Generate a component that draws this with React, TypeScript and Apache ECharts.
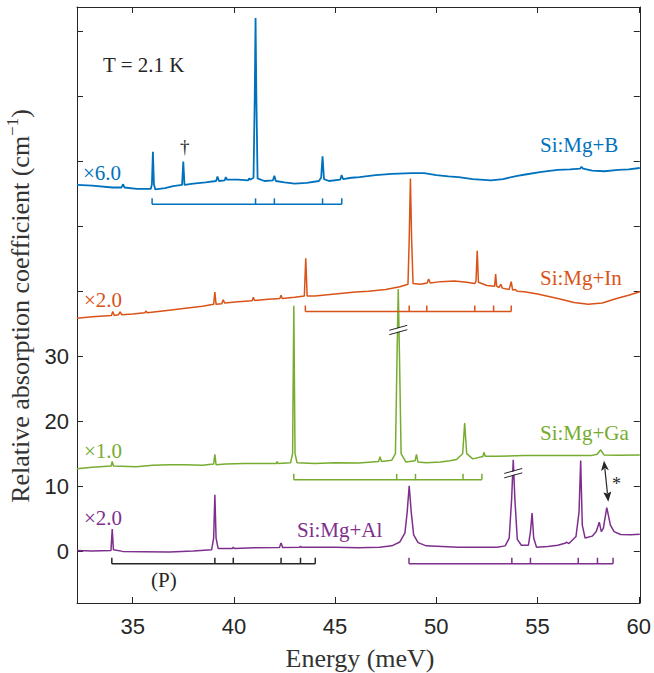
import React, { useEffect, useRef } from "react";
import * as echarts from "echarts";

// ---------- data (energy meV, displayed relative absorption) ----------
const xTicks = [35, 40, 45, 50, 55, 60];
const yTicks = [0, 10, 20, 30, 40, 50, 60, 70, 80];
const yLabels = [0, 10, 20, 30];

const spectrumB: number[][] = [
  [32.25, 56.4], [33.0, 56.3], [34.0, 56.0], [34.45, 56.0], [34.52, 56.5], [34.6, 56.0], [35.2, 55.8],
  [35.9, 55.8], [35.95, 56.5], [36.0, 61.5], [36.05, 56.5], [36.12, 55.7], [36.6, 55.9], [37.0, 56.2],
  [37.44, 56.4], [37.5, 60.0], [37.56, 56.4], [38.0, 56.6], [38.6, 56.8], [39.12, 57.0], [39.19, 57.7],
  [39.26, 57.0], [39.55, 57.1], [39.6, 57.6], [39.66, 57.2], [40.2, 57.2], [40.7, 57.1], [40.75, 57.4],
  [40.8, 57.2], [40.97, 57.5], [41.03, 70.0], [41.07, 82.1], [41.11, 70.0], [41.17, 57.4], [41.5, 57.0],
  [41.93, 57.1], [42.0, 57.8], [42.07, 57.0], [42.5, 56.8], [43.0, 56.6], [43.6, 56.7], [44.2, 57.0],
  [44.31, 57.5], [44.38, 60.8], [44.45, 57.3], [44.7, 57.0], [45.25, 57.2], [45.32, 57.9], [45.39, 57.3],
  [45.8, 57.5], [46.2, 57.6], [47.0, 57.9], [47.8, 58.1], [48.8, 58.2], [49.4, 58.2], [50.0, 57.9],
  [50.6, 57.7], [51.1, 57.6], [51.8, 57.3], [52.7, 57.1], [53.3, 57.3], [54.0, 57.8], [54.4, 58.0],
  [55.2, 58.4], [56.0, 58.7], [56.6, 58.8], [57.1, 58.9], [57.17, 59.2], [57.25, 58.9], [57.7, 58.6],
  [58.3, 58.5], [59.0, 58.7], [59.5, 58.8], [60.05, 59.0],
];

const spectrumIn: number[][] = [
  [32.25, 35.85], [33.0, 36.1], [33.95, 36.3], [34.02, 36.9], [34.09, 36.3], [34.3, 36.4], [34.38, 36.85],
  [34.46, 36.4], [35.0, 36.5], [35.6, 36.7], [35.66, 37.0], [35.72, 36.7], [36.8, 37.1], [37.6, 37.4],
  [38.45, 37.7], [39.0, 38.0], [39.06, 39.9], [39.12, 38.0], [39.4, 38.1], [39.47, 38.7], [39.55, 38.2],
  [40.2, 38.4], [40.9, 38.55], [40.96, 39.1], [41.02, 38.6], [41.7, 38.8], [42.27, 38.9], [42.33, 39.4],
  [42.39, 38.9], [43.0, 39.1], [43.48, 39.3], [43.55, 45.1], [43.62, 39.3], [44.0, 39.3], [45.0, 39.6],
  [46.0, 39.9], [46.65, 40.0], [47.5, 40.3], [48.2, 40.7], [48.6, 41.1], [48.66, 48.0], [48.72, 57.4],
  [48.78, 48.0], [48.85, 41.2], [49.2, 41.1], [49.55, 41.3], [49.62, 41.9], [49.7, 41.3], [50.2, 41.5],
  [50.9, 41.6], [51.5, 41.4], [51.9, 41.2], [51.96, 41.6], [52.02, 46.25], [52.08, 41.4], [52.5, 40.9],
  [52.88, 40.8], [52.93, 42.66], [52.98, 40.8], [53.1, 40.6], [53.19, 41.1], [53.26, 40.5], [53.6, 40.3],
  [53.7, 41.5], [53.77, 40.2], [53.9, 40.3], [54.0, 40.0], [54.35, 39.95], [55.0, 39.6], [56.0, 38.9],
  [56.8, 38.3], [57.5, 38.0], [58.2, 38.2], [58.9, 38.9], [59.5, 39.4], [60.05, 39.95],
];

const spectrumGa: number[][] = [
  [32.25, 12.66], [33.0, 12.9], [33.94, 13.1], [33.99, 13.8], [34.05, 13.1], [35.17, 13.0], [36.0, 13.2],
  [36.81, 13.3], [37.6, 13.3], [38.45, 13.2], [39.0, 13.4], [39.06, 14.9], [39.12, 13.3], [39.6, 13.4],
  [40.5, 13.5], [41.73, 13.5], [42.1, 13.5], [42.14, 13.8], [42.18, 13.5], [42.8, 13.6], [42.9, 15.0],
  [42.96, 37.8], [43.02, 15.0], [43.12, 13.6], [44.0, 13.5], [45.0, 13.6], [46.16, 13.55], [47.15, 13.8],
  [47.22, 14.55], [47.29, 13.8], [47.8, 14.0], [47.98, 15.0], [48.06, 30.0], [48.12, 40.35], [48.18, 30.0],
  [48.26, 15.0], [48.5, 13.7], [48.95, 13.9], [49.02, 14.9], [49.09, 13.7], [49.5, 13.6], [50.2, 13.7],
  [50.67, 13.9], [51.0, 14.1], [51.3, 15.0], [51.4, 19.7], [51.5, 15.0], [51.8, 14.2], [52.3, 14.55],
  [52.35, 15.2], [52.42, 14.6], [53.0, 14.6], [54.35, 14.7], [55.5, 14.7], [56.5, 14.7], [57.63, 14.7],
  [57.95, 14.9], [58.12, 15.6], [58.28, 14.8], [59.0, 14.75], [60.05, 14.8],
];

const spectrumAl: number[][] = [
  [32.25, 0.1], [33.0, 0.0], [33.93, 0.1], [33.99, 3.4], [34.05, 0.2], [34.5, -0.05], [35.5, -0.1],
  [36.81, -0.15], [38.0, 0.0], [38.9, 0.2], [39.0, 2.0], [39.06, 8.66], [39.12, 2.0], [39.22, 0.4],
  [39.92, 0.4], [39.97, 0.6], [40.02, 0.4], [41.0, 0.5], [42.25, 0.55], [42.33, 1.23], [42.41, 0.55],
  [43.25, 0.6], [43.29, 0.75], [43.33, 0.6], [45.0, 0.6], [46.16, 0.5], [47.2, 0.6], [47.8, 0.8],
  [48.2, 1.4], [48.45, 2.8], [48.56, 6.0], [48.66, 10.05], [48.76, 6.0], [48.88, 2.5], [49.1, 1.3],
  [49.5, 0.8], [51.07, 0.6], [53.0, 0.6], [53.4, 0.8], [53.6, 2.0], [53.72, 8.0], [53.8, 14.05],
  [53.88, 8.0], [54.0, 1.8], [54.2, 0.9], [54.55, 0.9], [54.65, 3.0], [54.73, 5.85], [54.81, 2.0],
  [54.95, 0.6], [55.5, 0.7], [56.0, 0.9], [56.35, 1.2], [56.45, 1.35], [56.55, 1.15], [56.9, 2.25],
  [57.05, 6.0], [57.13, 13.95], [57.21, 4.0], [57.35, 2.0], [57.7, 2.3], [57.9, 3.0], [58.05, 4.45],
  [58.15, 3.0], [58.25, 3.5], [58.42, 6.7], [58.6, 4.0], [58.78, 3.0], [59.1, 2.55], [59.6, 2.5],
  [60.05, 2.6],
];

// line assignment brackets (first/last = ends)
const bracketB = [35.96, 41.07, 42.0, 44.38, 45.33];
const bracketIn = [43.53, 48.66, 49.53, 51.9, 52.83, 53.7];
const bracketGa = [42.96, 48.04, 48.97, 51.32, 52.25];
const bracketP = [33.97, 39.06, 39.97, 42.33, 43.29, 44.02];
const bracketAl = [48.65, 53.73, 54.65, 57.01, 57.96, 58.73];
const bracketLevels = [53.4, 36.9, 10.97, -1.95, -1.95];

// axis-break marks on clipped peaks
const breakMarks: number[][] = [
  [48.12, 34.05],
  [53.8, 12.0],
];

const C_B = "#0072BD";
const C_IN = "#D95319";
const C_GA = "#77AC30";
const C_AL = "#7E2F8E";
const C_K = "#262626";

const SERIF = '"Liberation Serif", "Times New Roman", serif';
const SANS = '"Liberation Sans", Arial, sans-serif';

function bracketSeries(ticks: number[], level: number, color: string) {
  return {
    type: "custom",
    silent: true,
    clip: false,
    z: 3,
    data: [[ticks[0], level]],
    renderItem: (_p: any, api: any) => {
      const pts = ticks.map((t) => api.coord([t, level]));
      const h = 6;
      const children: any[] = [
        {
          type: "line",
          shape: { x1: pts[0][0], y1: pts[0][1], x2: pts[pts.length - 1][0], y2: pts[pts.length - 1][1] },
          style: { stroke: color, lineWidth: 1.5 },
        },
      ];
      pts.forEach((p: number[]) =>
        children.push({
          type: "line",
          shape: { x1: p[0], y1: p[1], x2: p[0], y2: p[1] - h },
          style: { stroke: color, lineWidth: 1.5 },
        })
      );
      return { type: "group", children };
    },
  };
}

function lineSeries(data: number[][], color: string, width = 1.5) {
  return {
    type: "line",
    data,
    showSymbol: false,
    symbol: "none",
    lineStyle: { color, width },
    itemStyle: { color },
    z: 2,
    silent: true,
  };
}

export default function App() {
  const ref = useRef<HTMLDivElement>(null);
  useEffect(() => {
    if (!ref.current) return;
    const chart = echarts.init(ref.current, undefined, { renderer: "svg" });
    const xMin = 32.25, xMax = 60.05, yMin = -8, yMax = 83.8;
    const axisLineStyle = { color: C_K, width: 1 };
    const option: any = {
      animation: false,
      backgroundColor: "#ffffff",
      grid: { left: 77, right: 11, top: 7, bottom: 70, containLabel: false },
      xAxis: [
        {
          type: "value", min: xMin, max: xMax, position: "bottom",
          axisLine: { show: true, onZero: false, lineStyle: axisLineStyle },
          axisTick: { show: true, inside: true, length: 6, customValues: xTicks, lineStyle: axisLineStyle },
          axisLabel: { show: true, customValues: xTicks, fontSize: 22, fontFamily: SANS, color: C_K, margin: 12 },
          splitLine: { show: false },
        },
        {
          type: "value", min: xMin, max: xMax, position: "top",
          axisLine: { show: true, onZero: false, lineStyle: axisLineStyle },
          axisTick: { show: true, inside: true, length: 6, customValues: xTicks, lineStyle: axisLineStyle },
          axisLabel: { show: false },
          splitLine: { show: false },
        },
      ],
      yAxis: [
        {
          type: "value", min: yMin, max: yMax, position: "left",
          axisLine: { show: true, onZero: false, lineStyle: axisLineStyle },
          axisTick: { show: true, inside: true, length: 6, customValues: yTicks, lineStyle: axisLineStyle },
          axisLabel: { show: true, customValues: yLabels, fontSize: 22, fontFamily: SANS, color: C_K, margin: 8 },
          splitLine: { show: false },
        },
        {
          type: "value", min: yMin, max: yMax, position: "right",
          axisLine: { show: true, onZero: false, lineStyle: axisLineStyle },
          axisTick: { show: true, inside: true, length: 6, customValues: yTicks, lineStyle: axisLineStyle },
          axisLabel: { show: false },
          splitLine: { show: false },
        },
      ],
      series: [
        lineSeries(spectrumB, C_B, 1.8),
        lineSeries(spectrumIn, C_IN),
        lineSeries(spectrumGa, C_GA),
        lineSeries(spectrumAl, C_AL),
        bracketSeries(bracketB, bracketLevels[0], C_B),
        bracketSeries(bracketIn, bracketLevels[1], C_IN),
        bracketSeries(bracketGa, bracketLevels[2], C_GA),
        bracketSeries(bracketP, bracketLevels[3], C_K),
        bracketSeries(bracketAl, bracketLevels[4], C_AL),
        {
          type: "custom",
          silent: true,
          clip: false,
          z: 5,
          data: breakMarks,
          renderItem: (_p: any, api: any) => {
            const c = api.coord([api.value(0), api.value(1)]);
            const cx = c[0], cy = c[1];
            return {
              type: "group",
              children: [
                {
                  type: "polygon",
                  shape: { points: [[cx - 8, cy + 0.6], [cx + 8, cy - 3.9], [cx + 8, cy - 0.6], [cx - 8, cy + 3.9]] },
                  style: { fill: "#ffffff" },
                },
                { type: "line", shape: { x1: cx - 9, y1: cy + 0.3, x2: cx + 9, y2: cy - 4.7 }, style: { stroke: C_K, lineWidth: 1 } },
                { type: "line", shape: { x1: cx - 9, y1: cy + 4.7, x2: cx + 9, y2: cy - 0.3 }, style: { stroke: C_K, lineWidth: 1 } },
              ],
            };
          },
        },
      ],
      graphic: [
        txt("T = 2.1 K", 103, 65, C_K, 21),
        txt("†", 180, 146, C_K, 19),
        txt("×6.0", 83, 173, C_B, 21),
        txt("Si:Mg+B", 540, 145, C_B, 21),
        txt("×2.0", 84, 300, C_IN, 21),
        txt("Si:Mg+In", 540, 278, C_IN, 21),
        txt("×1.0", 84, 451, C_GA, 21),
        txt("Si:Mg+Ga", 540, 433, C_GA, 21),
        txt("×2.0", 84, 518, C_AL, 21),
        txt("Si:Mg+Al", 297, 530, C_AL, 21),
        txt("(P)", 151, 580, C_K, 21),
        txt("*", 612, 484, C_K, 18),
        // double arrow
        { type: "line", shape: { x1: 604.9, y1: 469.0, x2: 607.4, y2: 493.0 }, style: { stroke: C_K, lineWidth: 1.2 } },
        { type: "polygon", shape: { points: [[604, 460.7], [608.9, 470.2], [605.0, 468.3], [601.0, 471.0]] }, style: { fill: C_K } },
        { type: "polygon", shape: { points: [[608.3, 501.7], [611.3, 491.5], [607.3, 493.5], [603.4, 492.4]] }, style: { fill: C_K } },
        // axis titles
        {
          type: "text", x: 360, y: 658,
          style: {
            text: "Energy (meV)", fill: "#333333", font: `26px ${SERIF}`,
            align: "center", verticalAlign: "middle", textAlign: "center", textVerticalAlign: "middle",
          },
        },
        {
          type: "text", x: 20, y: 306, rotation: Math.PI / 2,
          style: {
            text: "{a|Relative absorption coefficient (cm}{s|−1}{a|)}",
            fill: "#333333", font: `26px ${SERIF}`,
            align: "center", verticalAlign: "middle", textAlign: "center", textVerticalAlign: "middle",
            rich: {
              a: { fontSize: 26, fontFamily: SERIF, fill: "#333333", lineHeight: 32 },
              s: { fontSize: 17, fontFamily: SERIF, fill: "#333333", lineHeight: 18, verticalAlign: "top" },
            },
          },
        },
      ],
    };
    chart.setOption(option);
    return () => chart.dispose();
  }, []);
  return <div ref={ref} style={{ position: "fixed", left: 0, top: 0, width: 654, height: 673 }} />;
}

function txt(text: string, x: number, y: number, color: string, size: number) {
  return {
    type: "text",
    x,
    y,
    z: 10,
    style: {
      text,
      fill: color,
      font: `${size}px ${SERIF}`,
      align: "left",
      verticalAlign: "middle",
      textAlign: "left",
      textVerticalAlign: "middle",
    },
  };
}
